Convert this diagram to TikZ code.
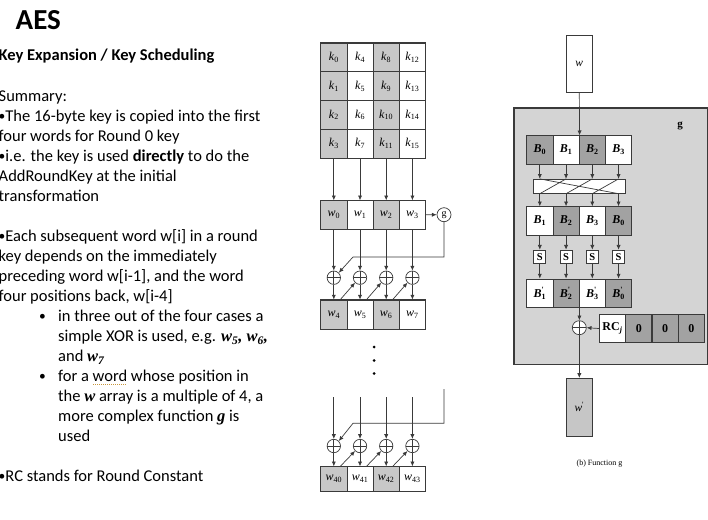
\documentclass[tikz,border=0pt]{standalone}
\usepackage{fontspec}
\setmainfont{Carlito}
\newfontfamily\tnr{Liberation Serif}
\usetikzlibrary{arrows.meta,calc}
\definecolor{ln}{HTML}{3A3A3A}
\definecolor{kgrey}{HTML}{C8C8C8}
\definecolor{dgrey}{HTML}{A2A2A2}
\definecolor{boxgrey}{HTML}{D4D4D4}
\definecolor{wpgrey}{HTML}{C6C6C6}
\definecolor{spell}{HTML}{C8963C}
\newcommand\bi[1]{{\tnr\bfseries\itshape #1}}
\newcommand\spellu[1]{\setbox0=\hbox{#1}\rlap{\color{spell}\leaders\hbox to 2pt{\hss\vrule height -2pt depth 3.1pt width 1.1pt\hss}\hskip\wd0}\box0{}}
\newcommand\bul{{\fontsize{13.5}{13.5}\selectfont\raisebox{0.6pt}{•}}}
\newcommand\bsub[2]{{\bfseries\itshape #1}\textsubscript{\bfseries #2}}
\newcommand\bpr[2]{{\bfseries\itshape #1}\rlap{\raisebox{0.5pt}{\textsuperscript{\bfseries '}}}\textsubscript{\bfseries #2}}
\begin{document}
\begin{tikzpicture}[x=1pt,y=-1pt,
  txt/.style={anchor=base west, inner sep=0pt, font=\fontsize{16.5}{20}\selectfont},
  cell/.style={draw=ln, line width=0.8pt, minimum width=26.2pt, minimum height=28.75pt, inner sep=0pt, font=\tnr\fontsize{12}{13}\selectfont},
  bcell/.style={draw=ln, line width=0.8pt, minimum width=26.25pt, minimum height=28.3pt, inner sep=0pt, font=\tnr\fontsize{12}{13}\selectfont},
  arr/.style={draw=ln, line width=0.7pt, -{Latex[length=4.8pt,width=4.2pt]}},
  xorc/.style={circle, draw=ln, fill=white, line width=0.7pt, minimum size=13.4pt, inner sep=0pt,
    path picture={\draw[ln, line width=0.7pt] (path picture bounding box.north) -- (path picture bounding box.south)
      (path picture bounding box.west) -- (path picture bounding box.east);}},
  sbox/.style={draw=ln, fill=white, line width=0.7pt, minimum width=12pt, minimum height=13.3pt, inner sep=0pt, font=\tnr\bfseries\fontsize{10.5}{11}\selectfont}
]
\useasboundingbox (0,0) rectangle (708,519);
% ---------- left text ----------
\node[txt, font=\fontsize{29}{30}\selectfont\bfseries] (title) at (15.5,29.3) {AES};
\node[txt, font=\fontsize{16.5}{20}\selectfont\bfseries] (head) at (-1.5,60) {Key Expansion / Key Scheduling};
\node[txt] (t1) at (-1.5,101.5) {Summary:};
\node[txt] (t2) at (-1.5,121.5) {\bul The 16-byte key is copied into the first};
\node[txt] (t3) at (-1.5,141.5) {four words for Round 0 key};
\node[txt] (t4) at (-1.5,161.5) {\bul i.e. the key is used \textbf{directly} to do the};
\node[txt] (t5) at (-1.5,181.5) {AddRoundKey at the initial};
\node[txt] (t6) at (-1.5,201.5) {transformation};
\node[txt] (t7) at (-1.5,241.5) {\bul Each subsequent word w[i] in a round};
\node[txt] (t8) at (-1.5,261.5) {key depends on the immediately};
\node[txt] (t9) at (-1.5,281.5) {preceding word w[i-1], and the word};
\node[txt] (t10) at (-1.5,301.5) {four positions back, w[i-4]};
\node[txt] (b1) at (39,321.5) {\bul};
\node[txt] (t11) at (58,321.5) {in three out of the four cases a};
\node[txt] (t12) at (58,341.5) {simple XOR is used, e.g. \bi{w\textsubscript{5}, w\textsubscript{6},}};
\node[txt] (t13) at (58,361.5) {and \bi{w\textsubscript{7}}};
\node[txt] (b2) at (39,381.5) {\bul};
\node[txt] (t14) at (58,381.5) {for a \spellu{word} whose position in};
\node[txt] (t15) at (58,401.5) {the \bi{w} array is a multiple of 4, a};
\node[txt] (t16) at (58,421.5) {more complex function \bi{g} is};
\node[txt] (t17) at (58,441.5) {used};
\node[txt] (t18) at (-1.5,481.5) {\bul RC stands for Round Constant};
% ---------- key expansion ----------
\foreach \c/\f in {0/kgrey,1/white,2/kgrey,3/white}{
  \foreach \r in {0,...,3}{
    \pgfmathtruncatemacro\idx{4*\c+\r}
    \node[cell, fill=\f] (k\idx) at ({333.8+26.2*\c},{57.4+28.75*\r}) {\textit{k}\textsubscript{\idx}};
  }
  \node[cell, fill=\f, minimum height=28.3pt] (w\c) at ({333.8+26.2*\c},214.85) {\textit{w}\textsubscript{\c}};
  \pgfmathtruncatemacro\na{4+\c}
  \node[cell, fill=\f, minimum height=29pt] (wb\c) at ({333.8+26.2*\c},314.5) {\textit{w}\textsubscript{\na}};
  \pgfmathtruncatemacro\nb{40+\c}
  \node[cell, fill=\f, minimum height=24.5pt] (wc\c) at ({333.8+26.2*\c},479) {\textit{w}\textsubscript{\nb}};
  \node[xorc] (xa\c) at ({333.8+26.2*\c},277.7) {};
  \node[xorc] (xb\c) at ({333.8+26.2*\c},446) {};
  \coordinate (tc\c) at ({333.8+26.2*\c},397);
}
\draw[ln, line width=1.1pt] (k0.north west) rectangle (k15.south east);
\draw[ln, line width=1.1pt] (w0.north west) rectangle (w3.south east);
\draw[ln, line width=1.1pt] (wb0.north west) rectangle (wb3.south east);
\draw[ln, line width=1.1pt] (wc0.north west) rectangle (wc3.south east);
\foreach \c in {0,...,3}{
  \pgfmathtruncatemacro\kb{4*\c+3}
  \draw[arr] (k\kb.south) -- (w\c.north);
  \draw[arr] (w\c.south) -- (xa\c.north);
  \draw[arr] (xa\c.south) -- (wb\c.north);
  \draw[arr] (tc\c) -- (xb\c.north);
  \draw[arr] (xb\c.south) -- (wc\c.north);
}
\node[circle, draw=ln, fill=white, line width=0.7pt, minimum size=14pt, inner sep=0pt, font=\tnr\fontsize{10}{10}\selectfont] (g) at (444,214.7) {g};
\draw[arr] (w3.east) -- (g.west);
\coordinate (ga) at (444,257);
\coordinate (gb) at (353,257);
\draw[arr] (g.south) -- (ga) -- (gb) -- (xa0.45);
\coordinate (gc) at (444,389);
\coordinate (gd) at (444,423.3);
\coordinate (ge) at (353,423.3);
\draw[arr] (gc) -- (gd) -- (ge) -- (xb0.45);
\foreach \c/\d in {0/1,1/2,2/3}{
  \draw[arr] ($(wb\c.north east)+(-7,0)$) -- (xa\d.225);
  \draw[arr] ($(wc\c.north east)+(-7,0)$) -- (xb\d.225);
}
\foreach \y in {347,360.5,373.5}{\fill[black] (374,\y) circle (1.5pt);}
% ---------- function g ----------
\node[draw=ln, fill=boxgrey, line width=1.3pt, minimum width=193.5pt, minimum height=256.7pt, anchor=north west, inner sep=0pt] (G) at (513.3,107.3) {};
\node[font=\tnr\bfseries\fontsize{11}{12}\selectfont] (glab) at (680,126) {g};
\node[draw=ln, fill=white, line width=0.8pt, minimum width=26.7pt, minimum height=57pt, inner sep=0pt, font=\tnr\itshape\fontsize{11.5}{12}\selectfont] (wbox) at (579.3,64.2) {w};
\foreach \c/\f/\l in {0/dgrey/0,1/white/1,2/dgrey/2,3/white/3}{
  \node[bcell, fill=\f] (ba\c) at ({539.8+26.25*\c},149.85) {\bsub{B}{\l}};
}
\foreach \c/\f/\l in {0/white/1,1/dgrey/2,2/white/3,3/dgrey/0}{
  \node[bcell, fill=\f] (bb\c) at ({539.8+26.25*\c},220.85) {\bsub{B}{\l}};
  \node[sbox] (sb\c) at ({539.8+26.25*\c},256.7) {S};
  \node[bcell, fill=\f] (bc\c) at ({539.8+26.25*\c},293.2) {\bpr{B}{\l}};
}
\draw[arr] (wbox.south) -- (ba1.north east);
\node[draw=ln, fill=white, line width=0.8pt, minimum width=92.4pt, minimum height=14pt, inner sep=0pt] (perm) at (579.5,186.3) {};
\foreach \c in {0,...,3}{
  \draw[arr] (ba\c.south) -- (ba\c.south |- perm.north);
  \draw[arr] (ba\c.south |- perm.south) -- (bb\c.north);
  \draw[arr] (bb\c.south) -- (sb\c.north);
  \draw[arr] (sb\c.south) -- (bc\c.north);
}
\draw[ln, line width=0.7pt] (ba0.south |- perm.north) -- (ba3.south |- perm.south)
  (ba1.south |- perm.north) -- (ba0.south |- perm.south)
  (ba2.south |- perm.north) -- (ba1.south |- perm.south)
  (ba3.south |- perm.north) -- (ba2.south |- perm.south);
\node[xorc, minimum size=14pt] (gx) at (579.3,327.7) {};
\draw[arr] (bc1.south east) -- (gx.north);
\foreach \c/\f/\l in {0/white/{RC\textsubscript{\itshape j}},1/dgrey/0,2/dgrey/0,3/dgrey/0}{
  \node[bcell, fill=\f, minimum height=28.4pt, font=\tnr\bfseries\fontsize{12}{13}\selectfont] (rc\c) at ({612.45+26.3*\c},328.5) {\l};
}
\draw[arr] (rc0.west) -- (gx.east);
\node[draw=ln, fill=wpgrey, line width=0.8pt, minimum width=26.7pt, minimum height=57.7pt, inner sep=0pt, font=\tnr\itshape\fontsize{11.5}{12}\selectfont] (wp) at (579.3,407.2) {w\textsuperscript{\upshape '}};
\draw[arr] (gx.south) -- (wp.north);
\node[font=\tnr\fontsize{8}{9}\selectfont] (cap) at (599.5,463.3) {(b) Function g};
\end{tikzpicture}
\end{document}
